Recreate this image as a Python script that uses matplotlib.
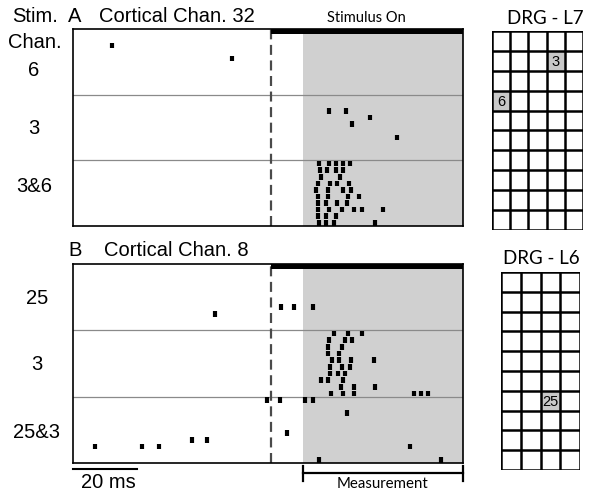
import matplotlib.pyplot as plt
from matplotlib.patches import Rectangle
from matplotlib.transforms import blended_transform_factory

plt.rcParams['font.family'] = ['Liberation Sans', 'DejaVu Sans']

# spike times (ms, stimulus onset = 0), one list per trial, 10 trials per stimulus
a_stim_labels = ["6", "3", "3&6"]
a_stim6 = [[], [], [-49.8], [], [-12.2], [], [], [], [], []]
a_stim3 = [[], [], [18.0, 23.5], [30.9], [25.2], [], [39.5], [], [], []]
a_stim36 = [[14.9, 18.2, 20.3, 22.4, 24.8],
            [15.3, 17.4, 20.3, 22.4],
            [15.7, 21.4],
            [14.7, 18.4, 20.7, 24.3],
            [13.9, 17.8, 22.4, 25.1],
            [14.5, 17.8, 24.1, 27.4],
            [14.5, 17.2, 20.5, 23.6],
            [14.5, 18.0, 22.0, 25.9, 28.4, 35.1],
            [14.5, 17.2, 20.3],
            [14.9, 17.2, 19.7, 32.6]]

b_stim_labels = ["25", "3", "25&3"]
b_stim25 = [[], [], [], [], [], [], [3.2, 7.2, 13.0], [-17.6], [], []]
b_stim3 = [[19.5, 24.0, 28.5],
           [18.2, 23.1, 25.2],
           [17.9, 22.3],
           [17.9, 21.3],
           [19.0, 21.2, 24.9, 32.2],
           [18.4, 22.1, 24.7],
           [18.4, 20.8, 23.1],
           [15.6, 17.8, 22.4],
           [21.8, 25.9, 32.5],
           [18.8, 22.6, 25.9, 44.6, 46.8, 49.0]]
b_stim253 = [[-1.3, 2.8, 10.7, 13.2], [], [23.7], [], [], [4.9],
             [-24.8, -20.1], [-55.2, -40.3, -35.1, 43.4], [], [15.1, 53.1]]

t_min, t_max = -62, 60
meas_start, meas_end = 10, 60

# DRG electrode grids: (label, row, col)
l7_shape = (10, 5)
l7_sites = [("3", 1, 3), ("6", 3, 0)]
l6_shape = (10, 4)
l6_sites = [("25", 6, 2)]

W, H = 601, 497
fig = plt.figure(figsize=(W / 100, H / 100), dpi=100)


def px_axes(x0, y0, x1, y1):
    return fig.add_axes([x0 / W, 1 - y1 / H, (x1 - x0) / W, (y1 - y0) / H])


def raster(ax, rows):
    ax.axvspan(meas_start, meas_end, color='#d0d0d0', lw=0, zorder=0)
    for r, trials in enumerate(rows):
        for k, times in enumerate(trials):
            if times:
                ax.eventplot(times, lineoffsets=r * 10 + k + 0.5, linelengths=0.85,
                             linewidths=3.0, colors='k', zorder=3)
        if r > 0:
            ax.axhline(r * 10, color='#8a8a8a', lw=0.9, zorder=1)
    ax.axvline(0, color='#4a4a4a', lw=1.6, dashes=(4.5, 2.5), zorder=2)
    ax.add_patch(Rectangle((0, 0), t_max, 0.75, color='k', lw=0, zorder=4))
    ax.set_xlim(t_min, t_max)
    ax.set_ylim(30, 0)
    ax.set_xticks([])
    ax.set_yticks([])
    for s in ax.spines.values():
        s.set_linewidth(1.2)


def grid(ax, shape, sites):
    nr, nc = shape
    for lab, r, c in sites:
        ax.add_patch(Rectangle((c, r), 1, 1, color='#c8c8c8', lw=0))
        ax.text(c + 0.5, r + 0.55, lab, ha='center', va='center', fontsize=10.5)
    for i in range(nr + 1):
        ax.plot([0, nc], [i, i], color='k', lw=1.8, solid_capstyle='projecting')
    for j in range(nc + 1):
        ax.plot([j, j], [0, nr], color='k', lw=1.8, solid_capstyle='projecting')
    ax.set_xlim(0, nc)
    ax.set_ylim(nr, 0)
    ax.axis('off')


axA = px_axes(73, 29, 463, 226)
raster(axA, [a_stim6, a_stim3, a_stim36])
axB = px_axes(73, 264, 463, 463)
raster(axB, [b_stim25, b_stim3, b_stim253])

# labels
fs = 14.5
fig.text(12 / W, 1 - 22 / H, "Stim.", fontsize=fs, va='baseline')
fig.text(62 / W, 1 - 48 / H, "Chan.", fontsize=fs, va='baseline', ha='right')
fig.text(68 / W, 1 - 22 / H, "A", fontsize=fs, va='baseline')
fig.text(99 / W, 1 - 22 / H, "Cortical Chan. 32", fontsize=fs, va='baseline')
fig.text(68 / W, 1 - 256 / H, "B", fontsize=fs, va='baseline')
fig.text(104 / W, 1 - 256 / H, "Cortical Chan. 8", fontsize=fs, va='baseline')
for lab, y in zip(a_stim_labels, [70, 128, 187]):
    fig.text(34 / W, 1 - y / H, lab, fontsize=fs, ha='center', va='center')
for lab, y in zip(b_stim_labels, [299, 365, 433]):
    fig.text(37 / W, 1 - y / H, lab, fontsize=fs, ha='center', va='center')

fig.text(366 / W, 1 - 18 / H, "Stimulus On", fontsize=10.5, ha='center', va='center',
         family=['Lato', 'DejaVu Sans'])

# scale bar and measurement bracket
trB = blended_transform_factory(axB.transData, axB.transAxes)
axB.plot([t_min, t_min + 20], [-0.03, -0.03], color='k', lw=1.5, transform=trB, clip_on=False)
fig.text(108 / W, 1 - 483 / H, "20 ms", fontsize=fs, ha='center', va='center')
axB.plot([meas_start, meas_end], [-0.05, -0.05], color='k', lw=1.6, transform=trB, clip_on=False)
for t in (meas_start, meas_end):
    axB.plot([t, t], [-0.015, -0.09], color='k', lw=1.6, transform=trB, clip_on=False)
fig.text(383 / W, 1 - 484 / H, "Measurement", fontsize=10.8, ha='center', va='center',
         family=['Lato', 'DejaVu Sans'])

# DRG grids
g7 = px_axes(492, 31, 583, 230)
grid(g7, l7_shape, l7_sites)
fig.text(545 / W, 1 - 19 / H, "DRG - L7", fontsize=13.5, ha='center', va='center',
         family=['Lato', 'DejaVu Sans'])
g6 = px_axes(501, 272, 580, 470)
grid(g6, l6_shape, l6_sites)
fig.text(541 / W, 1 - 259 / H, "DRG - L6", fontsize=13.5, ha='center', va='center',
         family=['Lato', 'DejaVu Sans'])

fig.savefig("out.png", dpi=100)
